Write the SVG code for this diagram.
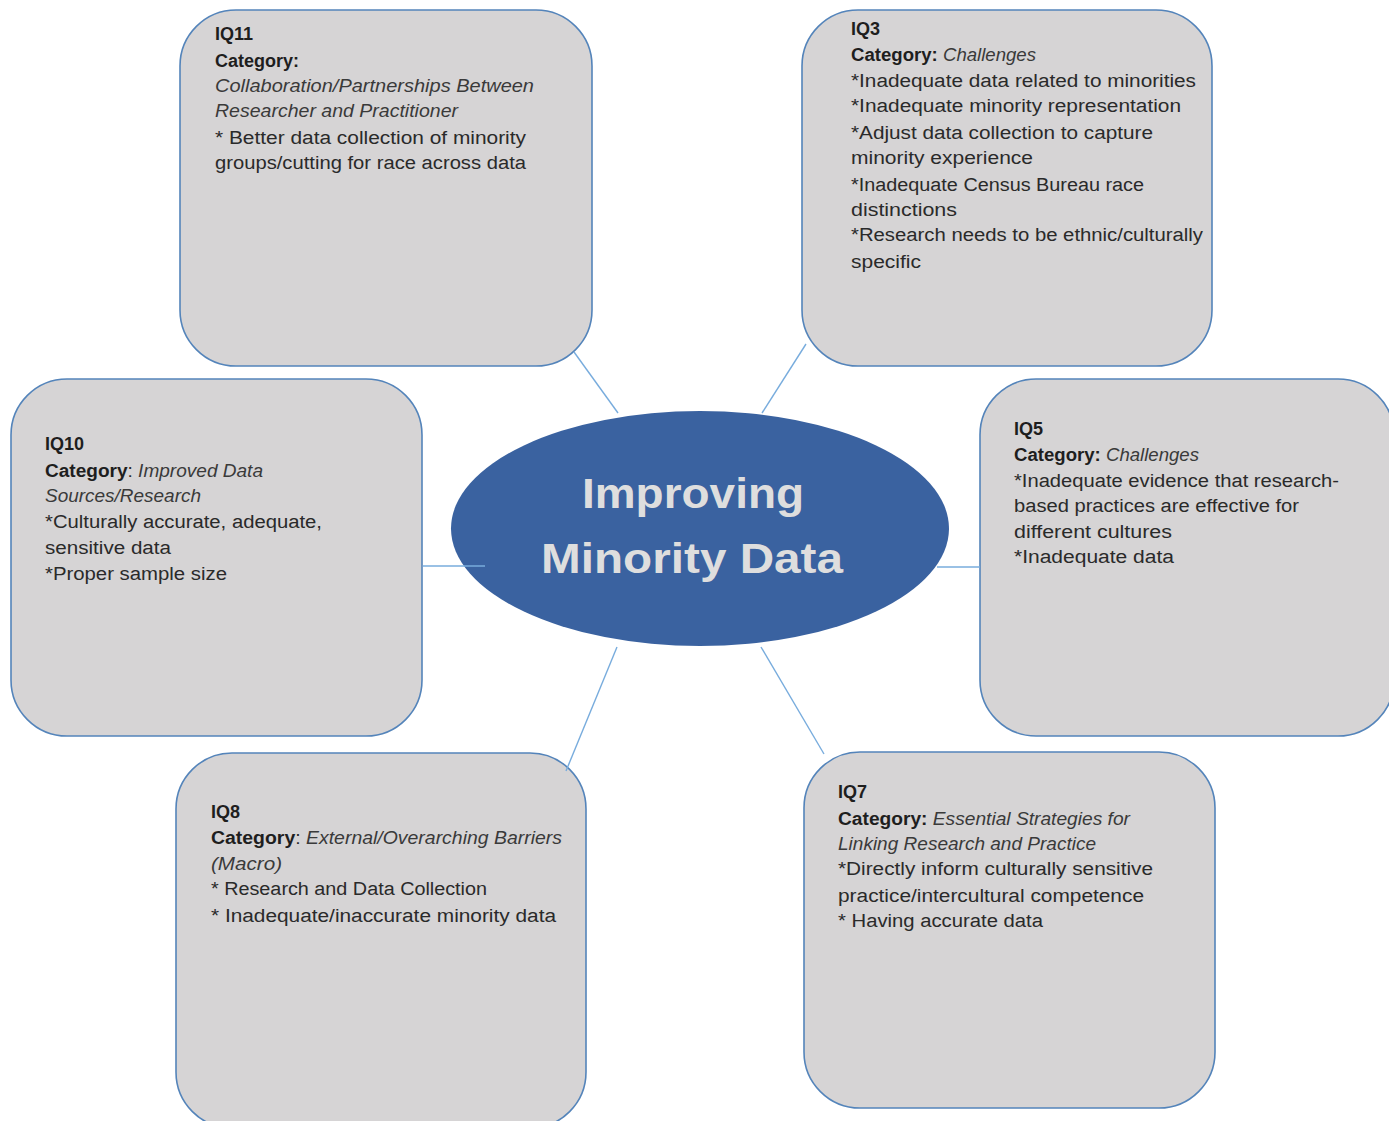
<svg xmlns="http://www.w3.org/2000/svg" width="1389" height="1121" viewBox="0 0 1389 1121">
<style>
.box{fill:#d6d4d5;stroke:#5484ba;stroke-width:1.6}
.t{font-family:"Liberation Sans",Arial,sans-serif;font-size:18px;fill:#2a2a2a}
.b{font-weight:bold;fill:#1e1e1e}
.i{font-style:italic;fill:#3a3a3a}
.c{font-family:"Liberation Sans",Arial,sans-serif;font-size:43px;font-weight:bold;fill:#dedede}
.con{stroke:#78acdd;stroke-width:1.4;fill:none}
</style>
<rect width="1389" height="1121" fill="#ffffff"/>
<g id="IQ11">
<rect class="box" x="180" y="10" width="412" height="356" rx="56"/>
<text class="t b" x="215" y="40">IQ11</text>
<text class="t b" x="215" y="67">Category:</text>
<text class="t i" x="215" y="92" textLength="319" lengthAdjust="spacingAndGlyphs">Collaboration/Partnerships Between</text>
<text class="t i" x="215" y="117" textLength="243" lengthAdjust="spacingAndGlyphs">Researcher and Practitioner</text>
<text class="t" x="215" y="144" textLength="311" lengthAdjust="spacingAndGlyphs">* Better data collection of minority</text>
<text class="t" x="215" y="169" textLength="311" lengthAdjust="spacingAndGlyphs">groups/cutting for race across data</text>
</g>
<g id="IQ3">
<rect class="box" x="802" y="10" width="410" height="356" rx="56"/>
<text class="t b" x="851" y="35">IQ3</text>
<text class="t" x="851" y="61" textLength="185" lengthAdjust="spacingAndGlyphs"><tspan class="b">Category: </tspan><tspan class="i">Challenges</tspan></text>
<text class="t" x="851" y="87" textLength="345" lengthAdjust="spacingAndGlyphs">*Inadequate data related to minorities</text>
<text class="t" x="851" y="112" textLength="330" lengthAdjust="spacingAndGlyphs">*Inadequate minority representation</text>
<text class="t" x="851" y="139" textLength="302" lengthAdjust="spacingAndGlyphs">*Adjust data collection to capture</text>
<text class="t" x="851" y="164" textLength="182" lengthAdjust="spacingAndGlyphs">minority experience</text>
<text class="t" x="851" y="191" textLength="293" lengthAdjust="spacingAndGlyphs">*Inadequate Census Bureau race</text>
<text class="t" x="851" y="216" textLength="106" lengthAdjust="spacingAndGlyphs">distinctions</text>
<text class="t" x="851" y="241" textLength="352" lengthAdjust="spacingAndGlyphs">*Research needs to be ethnic/culturally</text>
<text class="t" x="851" y="268" textLength="70" lengthAdjust="spacingAndGlyphs">specific</text>
</g>
<g id="IQ10">
<rect class="box" x="11" y="379" width="411" height="357" rx="56"/>
<text class="t b" x="45" y="450">IQ10</text>
<text class="t" x="45" y="477" textLength="218" lengthAdjust="spacingAndGlyphs"><tspan class="b">Category</tspan>: <tspan class="i">Improved Data</tspan></text>
<text class="t i" x="45" y="502" textLength="156" lengthAdjust="spacingAndGlyphs">Sources/Research</text>
<text class="t" x="45" y="528" textLength="277" lengthAdjust="spacingAndGlyphs">*Culturally accurate, adequate,</text>
<text class="t" x="45" y="554" textLength="126" lengthAdjust="spacingAndGlyphs">sensitive data</text>
<text class="t" x="45" y="580" textLength="182" lengthAdjust="spacingAndGlyphs">*Proper sample size</text>
</g>
<g id="IQ5">
<rect class="box" x="980" y="379" width="414" height="357" rx="56"/>
<text class="t b" x="1014" y="435">IQ5</text>
<text class="t" x="1014" y="461" textLength="185" lengthAdjust="spacingAndGlyphs"><tspan class="b">Category: </tspan><tspan class="i">Challenges</tspan></text>
<text class="t" x="1014" y="487" textLength="325" lengthAdjust="spacingAndGlyphs">*Inadequate evidence that research-</text>
<text class="t" x="1014" y="512" textLength="285" lengthAdjust="spacingAndGlyphs">based practices are effective for</text>
<text class="t" x="1014" y="538" textLength="158" lengthAdjust="spacingAndGlyphs">different cultures</text>
<text class="t" x="1014" y="563" textLength="160" lengthAdjust="spacingAndGlyphs">*Inadequate data</text>
</g>
<g id="IQ8">
<rect class="box" x="176" y="753" width="410" height="375" rx="56"/>
<text class="t b" x="211" y="818">IQ8</text>
<text class="t" x="211" y="844" textLength="351" lengthAdjust="spacingAndGlyphs"><tspan class="b">Category</tspan>: <tspan class="i">External/Overarching Barriers</tspan></text>
<text class="t i" x="211" y="870" textLength="71" lengthAdjust="spacingAndGlyphs">(Macro)</text>
<text class="t" x="211" y="895" textLength="276" lengthAdjust="spacingAndGlyphs">* Research and Data Collection</text>
<text class="t" x="211" y="922" textLength="345" lengthAdjust="spacingAndGlyphs">* Inadequate/inaccurate minority data</text>
</g>
<g id="IQ7">
<rect class="box" x="804" y="752" width="411" height="356" rx="56"/>
<text class="t b" x="838" y="798">IQ7</text>
<text class="t" x="838" y="825" textLength="292" lengthAdjust="spacingAndGlyphs"><tspan class="b">Category: </tspan><tspan class="i">Essential Strategies for</tspan></text>
<text class="t i" x="838" y="850" textLength="258" lengthAdjust="spacingAndGlyphs">Linking Research and Practice</text>
<text class="t" x="838" y="875" textLength="315" lengthAdjust="spacingAndGlyphs">*Directly inform culturally sensitive</text>
<text class="t" x="838" y="902" textLength="306" lengthAdjust="spacingAndGlyphs">practice/intercultural competence</text>
<text class="t" x="838" y="927" textLength="205" lengthAdjust="spacingAndGlyphs">* Having accurate data</text>
</g>
<g id="center">
<ellipse cx="700" cy="528.5" rx="249" ry="117.5" fill="#3a62a0"/>
<text class="c" x="582" y="508" textLength="222" lengthAdjust="spacingAndGlyphs">Improving</text>
<text class="c" x="541" y="573" textLength="302" lengthAdjust="spacingAndGlyphs">Minority Data</text>
</g>
<g id="connectors">
<line class="con" x1="574" y1="352" x2="618" y2="413"/>
<line class="con" x1="806" y1="344" x2="762" y2="413"/>
<line class="con" x1="423" y1="566" x2="485" y2="566"/>
<line class="con" x1="937" y1="567" x2="980" y2="567"/>
<line class="con" x1="617" y1="647" x2="566" y2="771"/>
<line class="con" x1="761" y1="647" x2="824" y2="754"/>
</g>
</svg>
